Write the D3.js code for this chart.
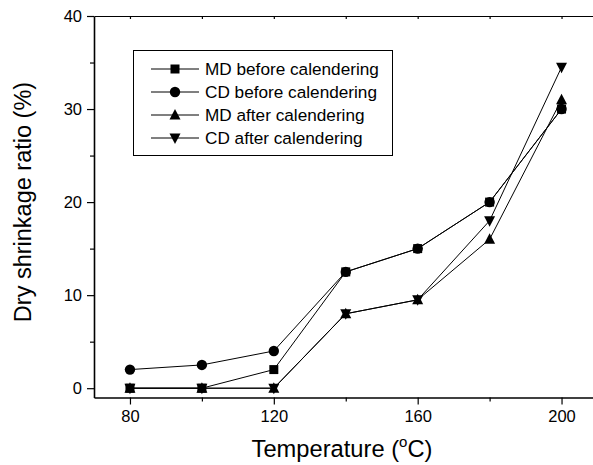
<!DOCTYPE html>
<html>
<head>
<meta charset="utf-8">
<script src="https://cdn.jsdelivr.net/npm/d3@7"></script>
<style>
  body { margin: 0; background: #fff; }
  svg { display: block; font-family: Arial, "Liberation Sans", sans-serif; }
</style>
</head>
<body>
<div id="chart"></div>
<script>
var temperatures = [80, 100, 120, 140, 160, 180, 200];
var seriesNames = ["MD before calendering", "CD before calendering", "MD after calendering", "CD after calendering"];
var mdBefore = [0, 0, 2, 12.5, 15, 20, 30];
var cdBefore = [2, 2.5, 4, 12.5, 15, 20, 30];
var mdAfter = [0, 0, 0, 8, 9.5, 16, 31];
var cdAfter = [0, 0, 0, 8, 9.5, 18, 34.5];
var xTickLabels = [80, 120, 160, 200];
var yTickLabels = [0, 10, 20, 30, 40];

var CHART = (function(d3) {
    var width = 593, height = 465,
        left = 94, right = 597.5, top = 16, bottom = 397.5;

    var x = d3.scaleLinear().domain([70, 210]).range([left, right]);
    var y = d3.scaleLinear().domain([-1, 40]).range([bottom, top]);

    var symbols = ["square", "circle", "up", "down"];

    var _markerPath = function(kind) {
        if (kind === "square") return "M-4.5,-4.5H4.5V4.5H-4.5Z";
        if (kind === "circle") return d3.symbol(d3.symbolCircle, 85)();
        if (kind === "up") return "M0,-6L5.5,4.5L-5.5,4.5Z";
        return "M0,6L5.5,-4.5L-5.5,-4.5Z";
    };

    var draw = function() {
        var svg = d3.select("#chart").append("svg")
            .attr("width", width)
            .attr("height", height);

        // bottom axis
        svg.append("g")
            .attr("transform", "translate(0," + bottom + ")")
            .call(d3.axisBottom(x).tickValues([100, 140, 180]).tickSize(4).tickFormat(""))
            .call(function(g) { g.select(".domain").remove(); });
        var xa = svg.append("g")
            .attr("transform", "translate(0," + bottom + ")")
            .call(d3.axisBottom(x).tickValues(xTickLabels).tickSize(7).tickSizeOuter(0).tickPadding(6));
        xa.select(".domain").attr("stroke-width", 1.6);

        // left axis
        svg.append("g")
            .attr("transform", "translate(" + left + ",0)")
            .call(d3.axisLeft(y).tickValues([5, 15, 25, 35]).tickSize(4).tickFormat(""))
            .call(function(g) { g.select(".domain").remove(); });
        var ya = svg.append("g")
            .attr("transform", "translate(" + left + ",0)")
            .call(d3.axisLeft(y).tickValues(yTickLabels).tickSize(7).tickSizeOuter(0).tickPadding(5));
        ya.select(".domain").attr("stroke-width", 1.6);

        // top axis, ticks inward
        svg.append("g")
            .attr("transform", "translate(0," + top + ")")
            .call(d3.axisTop(x).tickValues([80, 100, 120, 140, 160, 180, 200]).tickSize(-3).tickSizeOuter(0).tickFormat(""))
            .select(".domain").attr("stroke-width", 1.2);

        svg.selectAll(".tick text")
            .attr("font-size", 16.5)
            .attr("font-family", "Arial, 'Liberation Sans', sans-serif")
            .attr("fill", "#000");
        svg.selectAll(".tick line").attr("stroke-width", 1.2);

        var all = [mdBefore, cdBefore, mdAfter, cdAfter];
        var line = d3.line()
            .x(function(d, i) { return x(temperatures[i]); })
            .y(function(d) { return y(d); });

        var order = [1, 0, 2, 3];
        order.forEach(function(s) {
            svg.append("path")
                .attr("d", line(all[s]))
                .attr("fill", "none")
                .attr("stroke", "#000")
                .attr("stroke-width", 1);
        });
        order.forEach(function(s) {
            svg.selectAll(".m" + s)
                .data(all[s])
                .enter()
                .append("path")
                .attr("class", "m" + s)
                .attr("transform", function(d, i) { return "translate(" + x(temperatures[i]) + "," + y(d) + ")"; })
                .attr("d", _markerPath(symbols[s]))
                .attr("fill", "#000");
        });

        // legend
        var lg = svg.append("g");
        lg.append("rect")
            .attr("x", 133.5).attr("y", 50.5)
            .attr("width", 259).attr("height", 105)
            .attr("fill", "#fff").attr("stroke", "#000").attr("stroke-width", 1);
        seriesNames.forEach(function(name, s) {
            var ly = 69 + s * 23;
            lg.append("line")
                .attr("x1", 151).attr("x2", 199)
                .attr("y1", ly).attr("y2", ly)
                .attr("stroke", "#000").attr("stroke-width", 1);
            lg.append("path")
                .attr("transform", "translate(175," + ly + ")")
                .attr("d", _markerPath(symbols[s]))
                .attr("fill", "#000");
            lg.append("text")
                .attr("x", 205).attr("y", ly + 6)
                .attr("font-size", 17.2)
                .text(name);
        });

        // axis titles
        var xt = svg.append("text")
            .attr("x", 342).attr("y", 457)
            .attr("text-anchor", "middle")
            .attr("font-size", 23.7);
        xt.append("tspan").text("Temperature (");
        xt.append("tspan").attr("font-size", 15).attr("dy", -10).text("o");
        xt.append("tspan").attr("dy", 10).text("C)");

        svg.append("text")
            .attr("transform", "translate(31,202) rotate(-90)")
            .attr("text-anchor", "middle")
            .attr("font-size", 23.5)
            .text("Dry shrinkage ratio (%)");
    };

    return { draw: draw };
})(d3);

CHART.draw();
</script>
</body>
</html>
